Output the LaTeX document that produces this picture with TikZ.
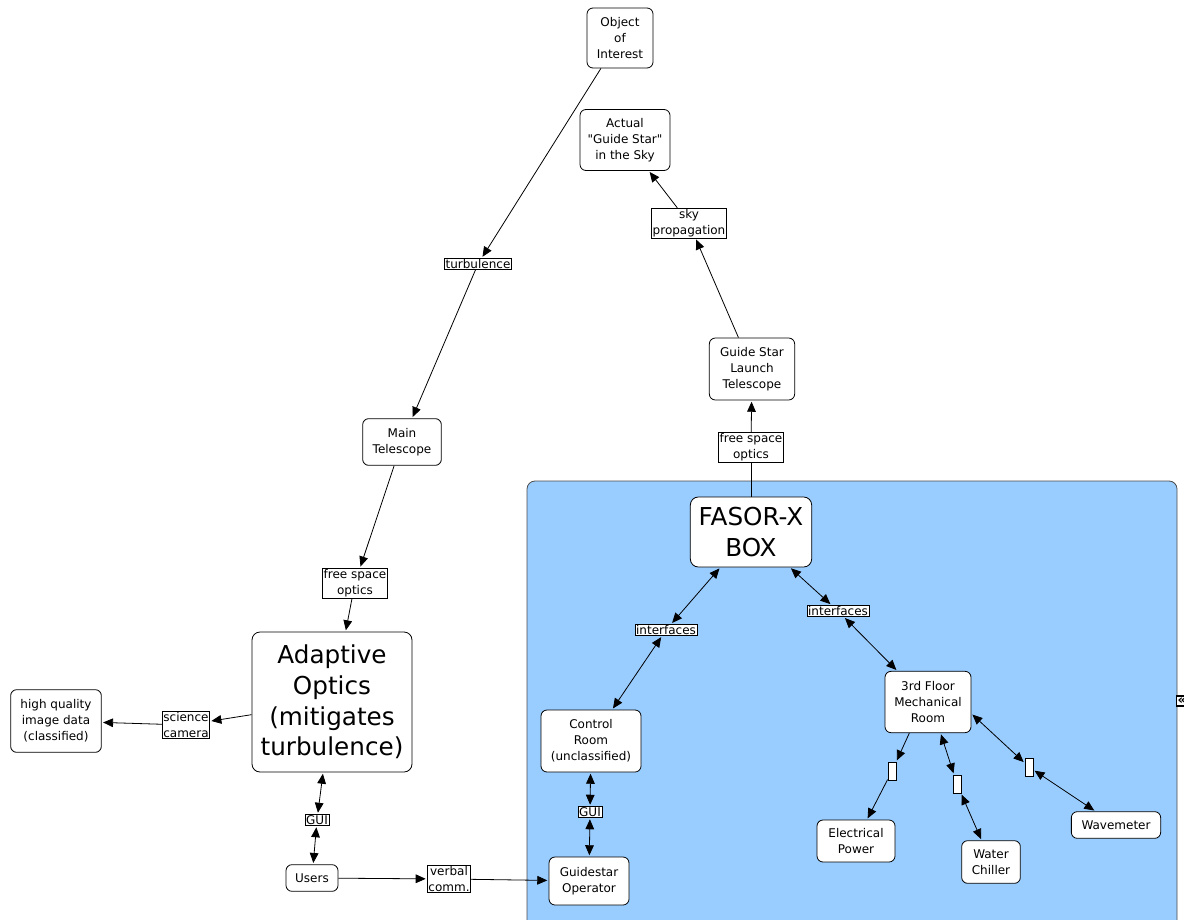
\documentclass[tikz,border=0pt]{standalone}
\usepackage{fontspec}
\setmainfont{DejaVu Sans}
\usetikzlibrary{arrows.meta}

\definecolor{roomblue}{RGB}{153,204,255}
\tikzset{
  concept/.style={draw, rounded corners=4.5pt, fill=white, align=center, font=\fontsize{9}{12}\selectfont, inner sep=1pt, line width=0.6pt},
  bigconcept/.style={concept, rounded corners=6pt, font=\fontsize{18.5}{23}\selectfont},
  linklabel/.style={draw, fill=white, align=center, font=\fontsize{9}{12}\selectfont, inner sep=0.8pt, line width=0.5pt},
  stub/.style={draw, fill=white, minimum width=6pt, minimum height=13.5pt, inner sep=0pt, line width=0.6pt},
  onearrow/.style={-{Triangle[length=7.5pt,width=6.5pt]}, line width=0.6pt, shorten >=1pt},
  twoway/.style={{Triangle[length=7.5pt,width=6.5pt]}-{Triangle[length=7.5pt,width=6.5pt]}, line width=0.6pt, shorten >=1pt, shorten <=1pt},
}

\begin{document}
\begin{tikzpicture}[x=0.75pt,y=0.75pt,yscale=-1,xscale=1]
\useasboundingbox (0,0) rectangle (1184,920);

%Shape: Rounded Rect (FASOR-X site)
\draw [draw=black!70, fill=roomblue, rounded corners=6pt, line width=0.6pt] (527,481) rectangle (1177,945);

% Concepts, sky and telescopes
\node [concept, minimum width=49.5pt, minimum height=45pt] (obj) at (620,38) {Object\\of\\Interest};
\node [concept, minimum width=67.5pt, minimum height=45.75pt] (gstar) at (625,140) {Actual\\\textquotedbl Guide Star\textquotedbl\\in the Sky};
\node [concept, minimum width=64pt, minimum height=46.5pt] (gslt) at (752,369) {Guide Star\\Launch\\Telescope};
\node [concept, minimum width=59pt, minimum height=35pt] (maintel) at (402,442) {Main\\Telescope};
\node [bigconcept, minimum width=120pt, minimum height=105pt] (ao) at (332,702) {Adaptive\\Optics\\(mitigates\\turbulence)};
\node [concept, minimum width=68pt, minimum height=47pt] (hq) at (56,721) {high quality\\image data\\(classified)};
\node [concept, minimum width=39pt, minimum height=20pt] (users) at (312,878) {Users};

% Concepts, inside the box
\node [bigconcept, minimum width=91pt, minimum height=52.5pt] (fasor) at (751,532) {FASOR-X\\BOX};
\node [concept, minimum width=75pt, minimum height=46.5pt] (ctrl) at (591,741) {Control\\Room\\(unclassified)};
\node [concept, minimum width=60pt, minimum height=36pt] (gso) at (589,881) {Guidestar\\Operator};
\node [concept, minimum width=64.5pt, minimum height=46pt] (mech) at (928,702) {3rd Floor\\Mechanical\\Room};
\node [concept, minimum width=58.5pt, minimum height=31.5pt] (power) at (856,841) {Electrical\\Power};
\node [concept, minimum width=44pt, minimum height=32pt] (chiller) at (991,862) {Water\\Chiller};
\node [concept, minimum width=67pt, minimum height=20pt] (wave) at (1116,825) {Wavemeter};

% Link labels
\node [linklabel] (turb) at (478,264) {turbulence};
\node [linklabel] (skyprop) at (689,223) {sky\\propagation};
\node [linklabel] (fsotop) at (751,447) {free space\\optics};
\node [linklabel] (fsoleft) at (355,583) {free space\\optics};
\node [linklabel] (scicam) at (186,725) {science\\camera};
\node [linklabel] (guileft) at (317,820) {GUI};
\node [linklabel] (verbal) at (449,879) {verbal\\comm.};
\node [linklabel] (guiright) at (590,812) {GUI};
\node [linklabel] (intleft) at (666,630) {interfaces};
\node [linklabel] (intright) at (838,611) {interfaces};
\node [stub] (stubpow) at (892,771) {};
\node [stub] (stubchill) at (957,784) {};
\node [stub] (stubwave) at (1029,767) {};
% overflow mark at the right edge
\node [draw, fill=white, line width=1.2pt, inner sep=1pt, font=\fontsize{10}{10}\selectfont\bfseries] (more) at (1182,701) {«};

% Connectors
\draw [onearrow] (obj) -- (turb);
\draw [onearrow] (turb) -- (maintel);
\draw [onearrow] (maintel) -- (fsoleft);
\draw [onearrow] (fsoleft) -- (ao);
\draw [onearrow] (ao) -- (scicam);
\draw [onearrow] (scicam) -- (hq);
\draw [twoway] (ao) -- (guileft);
\draw [twoway] (guileft) -- (users);
\draw [onearrow] (users) -- (verbal);
\draw [onearrow] (verbal) -- (gso);
\draw [twoway] (ctrl) -- (guiright);
\draw [twoway] (guiright) -- (gso);
\draw [twoway] (ctrl) -- (intleft);
\draw [twoway] (intleft) -- (fasor);
\draw [twoway] (fasor) -- (intright);
\draw [twoway] (intright) -- (mech);
\draw [line width=0.6pt] (fasor) -- (fsotop);
\draw [onearrow] (fsotop) -- (gslt);
\draw [onearrow] (gslt) -- (skyprop);
\draw [onearrow] (skyprop) -- (gstar);
\draw [onearrow] (mech.239) -- (stubpow);
\draw [onearrow] (stubpow) -- (power);
\draw [twoway] (mech.-68) -- (stubchill);
\draw [twoway] (stubchill) -- (chiller);
\draw [twoway] (mech.-15) -- (stubwave);
\draw [twoway] (stubwave) -- (wave);

\end{tikzpicture}
\end{document}
